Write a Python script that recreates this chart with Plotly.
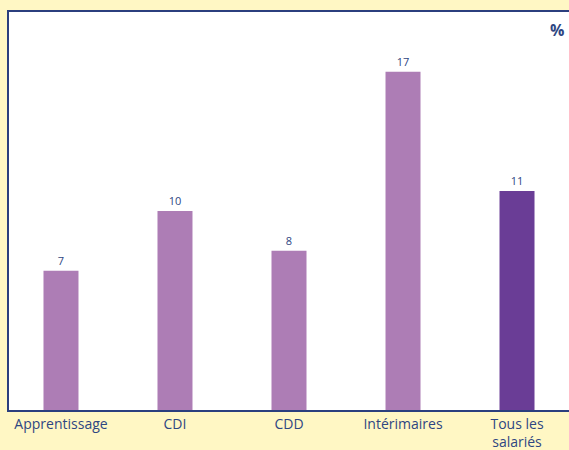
import plotly.graph_objects as go

categories = ["Apprentissage", "CDI", "CDD", "Intérimaires", "Tous les<br>salariés"]
values = [7, 10, 8, 17, 11]
colors = ["#AD7DB5", "#AD7DB5", "#AD7DB5", "#AD7DB5", "#6A3D96"]

navy = "#2E4682"
bg = "#FFF7C4"
fig = go.Figure(go.Bar(
    x=list(range(len(categories))), y=values,
    marker=dict(color=colors, line=dict(width=0)),
    width=0.307,
    text=[str(v) for v in values], textposition="outside",
    textfont=dict(size=11, color=navy, family="Open Sans"),
    cliponaxis=False,
))

fig.update_layout(
    template="none",
    width=569, height=450,
    margin=dict(l=9, r=0, t=12, b=40),
    paper_bgcolor=bg,
    plot_bgcolor="#FFFFFF",
    showlegend=False,
    font=dict(family="Open Sans", color=navy),
    xaxis=dict(
        range=[-0.456, 4.456],
        tickmode="array", tickvals=list(range(len(categories))), ticktext=categories,
        tickfont=dict(size=14, color=navy),
        showgrid=False, zeroline=False, ticks="", ticklabelstandoff=0,
        showline=True, linecolor="#2B3F7E", linewidth=2, mirror=True,
        automargin=False, fixedrange=True,
    ),
    yaxis=dict(
        range=[0, 20], showticklabels=False, showgrid=False, zeroline=False, ticks="",
        showline=True, linecolor="#2B3F7E", linewidth=2, mirror=False,
        automargin=False,
    ),
    annotations=[dict(text="<b>%</b>", x=0.978, y=0.955, xref="paper", yref="paper",
                      showarrow=False, font=dict(size=16, color=navy), xanchor="center", yanchor="middle")],
)

fig.write_html(
    "out.html",
    config={"displayModeBar": False},
    post_script="document.body.style.margin='0';document.body.style.background='" + bg + "';",
)
